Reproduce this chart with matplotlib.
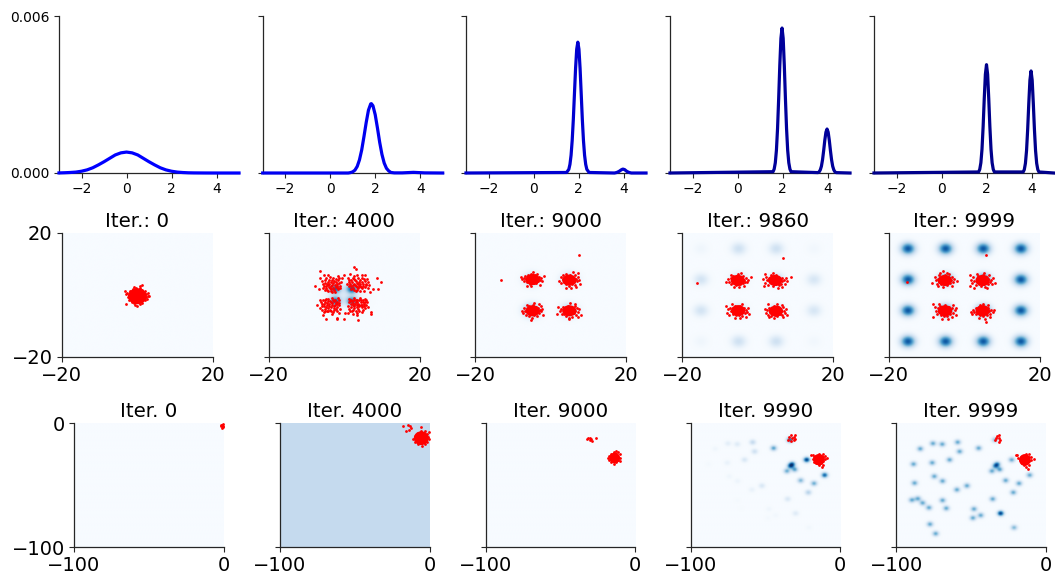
import numpy as np
import matplotlib
matplotlib.use("Agg")
import matplotlib.pyplot as plt
from matplotlib.patches import Ellipse

W, H = 1055, 580
# ---- row 1: density curves (values in units of 1e-3) ----
curve_colors = ["#0000ff", "#0000f0", "#0000d0", "#00009a", "#00008b"]
c1_x = [-3, -2.75, -2.5, -2.25, -2, -1.75, -1.5, -1.25, -1, -.75, -.5, -.25, 0, .25, .5, .75, 1, 1.25, 1.5, 1.75, 2, 2.25, 2.5, 2.75, 3, 3.5, 4, 5]
c1_y = [.003, .01, .02, .035, .068, .12, .2, .31, .43, .56, .69, .77, .8, .77, .69, .56, .43, .31, .2, .12, .068, .035, .018, .008, .004, .001, 0, 0]
c2_x = [-3, .8, .9, 1., 1.1, 1.2, 1.3, 1.4, 1.5, 1.6, 1.7, 1.8, 1.83, 1.9, 2., 2.1, 2.2, 2.3, 2.4, 2.5, 2.6, 2.7, 2.85, 3.2, 3.7, 4.2, 5]
c2_y = [0, 0, .015, .044, .11, .25, .5, .88, 1.39, 1.93, 2.4, 2.64, 2.65, 2.57, 2.23, 1.72, 1.17, .71, .38, .18, .08, .02, .005, .005, .025, .005, 0]
c3_x = [-3, 1.47, 1.57, 1.62, 1.67, 1.72, 1.77, 1.82, 1.87, 1.92, 1.97, 2.02, 2.07, 2.12, 2.17, 2.22, 2.27, 2.32, 2.37, 2.47, 3.6, 3.7, 3.8, 3.9, 3.97, 4.05, 4.15, 4.25, 4.35, 5]
c3_y = [0, .02, .14, .33, .68, 1.25, 2.05, 3.03, 4., 4.73, 5., 4.73, 4., 3.03, 2.05, 1.25, .68, .33, .14, .02, 0, .02, .06, .12, .15, .13, .06, .02, 0, 0]
c4_x = [-3, 1.58, 1.63, 1.68, 1.73, 1.78, 1.83, 1.88, 1.93, 1.98, 2.03, 2.08, 2.13, 2.18, 2.23, 2.28, 2.33, 2.38, 3.58, 3.63, 3.68, 3.73, 3.78, 3.83, 3.88, 3.93, 3.98, 4.03, 4.08, 4.13, 4.18, 4.23, 4.28, 4.33, 4.38, 5]
c4_y = [0, .05, .15, .39, .87, 1.7, 2.85, 4.12, 5.15, 5.54, 5.15, 4.12, 2.85, 1.7, .87, .39, .15, .05, .015, .045, .12, .26, .51, .86, 1.25, 1.56, 1.68, 1.56, 1.25, .86, .51, .26, .12, .045, .015, 0]
c5_x = [-3, 1.65, 1.7, 1.75, 1.8, 1.85, 1.9, 1.95, 2., 2.05, 2.1, 2.15, 2.2, 2.25, 2.3, 2.35, 3.63, 3.68, 3.73, 3.78, 3.83, 3.88, 3.93, 3.98, 4.03, 4.08, 4.13, 4.18, 4.23, 4.28, 4.33, 5]
c5_y = [0, .04, .14, .39, .91, 1.77, 2.84, 3.77, 4.14, 3.77, 2.84, 1.77, .91, .39, .14, .04, .04, .13, .37, .86, 1.67, 2.67, 3.55, 3.9, 3.55, 2.67, 1.67, .86, .37, .13, .04, 0]
curves = [(c1_x, c1_y), (c2_x, c2_y), (c3_x, c3_y), (c4_x, c4_y), (c5_x, c5_y)]

# ---- row 2: density modes (x, y, level, sigma) ----
grid_xs = [-15, -5, 5, 15]
grid_ys = [15, 5, -5, -15]
levels_r2_3 = [[0, 0, 0, 0], [0, .3, .3, 0], [0, .5, .35, 0], [0, 0, 0, 0]]
levels_r2_4 = [[.04, .2, .2, .03], [.18, .3, .3, .16], [.18, .3, .3, .16], [.04, .2, .2, .03]]
levels_r2_5 = [[.85, .85, .85, .85], [.85, .85, .85, .85], [.85, .85, .85, .85], [.85, .85, .85, .85]]
modes_r2_2 = [(-2.5, 2., .75, 1.), (2., 2., .8, 1.), (-2.5, -2., .75, 1.), (2., -2., .7, 1.), (0, 0, .12, 3.2)]

p1 = [(-2.6,.6),(-2.4,-.8),(-2.2,.1),(-2.1,-1.7),(-1.8,1.2),(-1.7,-.4),(-1.5,.5),(-1.4,-1.3),(-1.3,-2.2),(-1.1,1.9),(-1,.9),(-1,-.2),(-.8,-1),(-.7,-2.7),(-.6,.3),(-.5,1.5),(-.4,-1.8),(-.2,2.2),(-.2,-.5),
      (0,.8),(.1,-1.2),(.2,-2.4),(.3,1.7),(.4,.1),(.6,-.7),(.7,2.3),(.8,1),(.9,-1.8),(1.1,-.1),(1.2,-2.6),(1.3,.6),(1.4,1.7),(1.5,-1.1),(1.7,-.4),(1.9,.5),(2,-1.7),(2.1,1.3),(2.3,-.6),(2.5,.2),(2.6,-1.2),(2.9,-.3),(2.8,.8),
      (-3.1,1.3),(-2.8,-2.9),(1.3,3.2),(0,-3.5),(.7,2.9),(-.9,2.6),(3.2,-.4),(-.4,-3.1),(.9,-3),(-2.9,.2)]
p2 = [(-6.3,7.75),(2.7,8.9),(3,8.5),(8.8,5.5),(9.8,4.1),(-7.7,3),(-6.8,2.05),(8.9,1.8),(7.7,1.8),(6.9,1.1),(-7.1,-3.1),(7,-5.5),(7,-6.2),(3.6,-8),(0,-7.7),(-1.8,-7.3),(-2,-7.9),(-4.8,-7.6),(-1.4,-5.8),(.2,-5.7),(-5.5,-6.4),
      (-6.3,5.6),(-5.3,6.6),(-4.2,6.4),(-3,5.4),(-1.7,6),(-.1,6.6),(-5.8,4.4),(-5,4.7),(-4.6,3.6),(-4.1,5),(-3.6,4.2),(-3.1,3.3),(-2.6,4.6),(-2,3.7),(-1.6,4.8),(-1.2,3),(-5.4,3),(-4.7,2.2),(-4,2.6),(-3.5,1.9),(-2.9,2.4),(-2.2,2.7),(-1.6,1.9),(-5.1,1.6),(-4.2,1.2),(-3.2,.9),(-2.4,1.1),(-.9,4.3),(-.6,5.4),
      (.9,5.5),(1.6,6.7),(2.7,6),(3.6,5.5),(4.6,6.3),(5.6,6.4),(6,5.2),(6.4,4.1),(1.2,4.2),(1.9,4.9),(2.5,3.7),(3.1,4.5),(3.7,3.6),(4.3,4.8),(4.9,3.7),(5.4,4.4),(5.9,3.1),(1.3,2.9),(2.2,2.4),(3,2.9),(3.6,2.2),(4.2,2.8),(4.8,2.2),(5.4,2.6),(3.1,1.2),(4.2,1.3),(5.2,1.2),(.7,3.5),(6.4,2.2),(2.6,5.2),
      (-6.4,-1.6),(-5.6,-1.5),(-5.9,-2.8),(-5,-2.3),(-4.4,-1.3),(-3.7,-1.9),(-3.2,-1),(-2.4,-1.5),(-1.6,-1.1),(-5.4,-3.6),(-4.6,-3.3),(-3.9,-2.9),(-3.1,-2.6),(-2.3,-2.7),(-1.5,-2.5),(-5.8,-4.7),(-5,-4.5),(-4.2,-4.2),(-3.5,-3.8),(-2.7,-3.6),(-1.8,-3.8),(-5.4,-5.5),(-4.6,-5.3),(-3.6,-5),(-2.8,-4.8),(-6,-3.6),(-3.2,-6),(-1.9,-5),(-6.4,-4.1),
      (1.2,-1.2),(1.9,-1.6),(2.7,-1),(3.4,-1.5),(4.1,-1.1),(4.9,-1.6),(5.6,-1.2),(6.1,-2.1),(1.4,-2.4),(2.2,-2.7),(3,-2.3),(3.7,-2.8),(4.4,-2.4),(5.2,-2.8),(5.9,-3.1),(1.1,-3.5),(1.9,-3.9),(2.6,-3.5),(3.3,-4),(4,-3.6),(4.7,-4),(5.4,-4.1),(1.6,-5),(2.4,-4.8),(3.1,-5.3),(3.9,-5),(4.6,-5.4),(2.2,-6.1),(3.3,-6.5),(6.3,-4),(1,-5.9),
      (-5.6,3.7),(-5.1,3.9),(-4.9,2.9),(-4.4,4.3),(-4.3,3.1),(-3.9,3.5),(-3.8,2.1),(-3.4,3),(-3.3,4.8),(-2.9,3.9),(-2.7,1.7),(-2.4,3.2),(-2.3,5.2),(-1.9,3),(-1.7,2.4),(-1.3,3.9),(-4.9,5.6),(-3.8,5.7),(-2.2,4.2),(-1.4,5.4),(-5.7,2.3),(-4.6,1.6),(-3.5,1.2),(-1.2,2.3),
      (1.5,3.7),(1.8,2.9),(2,4.2),(2.3,3.2),(2.8,3.3),(2.9,5),(3.3,3.9),(3.4,2.6),(3.9,4.2),(3.9,2.9),(4.3,3.5),(4.5,2.5),(4.6,5.5),(4.8,4.3),(5.1,3),(5.2,5.1),(5.7,3.7),(1.7,1.9),(2.6,1.7),(3.5,1.5),(1.2,5),(2.2,5.6),(3.4,6.3),(6.7,3.1),
      (-5.3,-2.9),(-5.1,-1.7),(-4.8,-3.8),(-4.5,-2.6),(-4.3,-1.9),(-3.9,-3.6),(-3.8,-4.8),(-3.5,-2.3),(-3.3,-3.2),(-3,-1.6),(-2.8,-4.2),(-2.6,-2),(-2.4,-3.2),(-2.1,-4.4),(-2,-2.1),(-1.8,-3),(-1.5,-1.7),(-1.3,-3.3),(-4.2,-5.2),(-5.2,-5.1),(-6.1,-2.3),(-3,-5.5),(-1.2,-4.4),(-4.8,-1.2),
      (1.6,-1.8),(1.7,-3),(2.1,-2),(2.2,-3.3),(2.5,-1.7),(2.7,-4.3),(2.9,-3),(3.1,-1.5),(3.3,-3.3),(3.5,-2.2),(3.7,-4.5),(3.9,-3.1),(4,-1.7),(4.4,-3.2),(4.5,-1.5),(4.8,-3.3),(4.9,-2.2),(5.3,-3.5),(5.6,-2.3),(5.8,-1.7),(1.3,-4.5),(2,-5.3),(3.5,-5.8),(5,-4.8)]

c_a = [(-2.8,.2),(-2.4,.6),(-2.2,-.4),(-1.9,1),(-1.7,.1),(-1.5,-.9),(-1.2,1.4),(-1,.5),(-.9,-.3),(-.7,-1.4),(-.5,1.9),(-.3,.9),(-.2,-.7),(0,2.4),(.1,.1),(.3,-1.2),(.5,1.3),(.6,-.3),(.8,.7),(1.,-1),(1.2,1.7),(1.3,.1),(1.5,-.5),(1.7,.9),(2,-.1),(2.3,.5),(2.6,-.6),(-1.5,-2),(1.9,-1.9),(-.4,-2.1),(3,1),(-3.1,.8)]
c_b = [(-2.7,-.3),(-2.3,.9),(-2.1,-1),(-1.8,.3),(-1.6,1.5),(-1.4,-.5),(-1.1,.8),(-1,-1.4),(-.8,2),(-.6,.1),(-.4,1.2),(-.3,-.8),(-.1,-1.9),(.1,.6),(.3,1.8),(.4,-.2),(.6,-1.2),(.8,1),(1,.2),(1.2,-.7),(1.4,1.5),(1.6,-1.6),(1.8,.5),(2,-.4),(2.3,.9),(2.6,0),(.9,2.5),(2.2,2.2),(-.9,-2.4),(.5,-2.6),(2.8,-1.3),(1.9,-2.3)]
c_c = [(-2.9,.1),(-2.5,-.7),(-2.3,.8),(-2,-.1),(-1.7,-1.4),(-1.5,.5),(-1.3,-.5),(-1.1,1.4),(-.9,-1.6),(-.7,.2),(-.5,-.7),(-.3,1),(-.2,-2.2),(0,-.1),(.2,1.8),(.3,-1.2),(.5,.5),(.7,-.5),(.9,1.2),(1.1,-1.7),(1.3,.1),(1.5,1),(1.7,-.8),(1.9,.3),(2.2,-.2),(2.5,.7),(2.7,-1.4),(.4,2.5),(-1.5,2),(2.3,1.7),(1.6,2.1),(-.5,-2.9)]
c_d = [(-3.2,-1.1),(-2.6,-.2),(-2.3,.7),(-2,-1),(-1.8,1.3),(-1.5,.1),(-1.3,-.9),(-1.1,.8),(-.8,-1.6),(-.6,.3),(-.4,1.6),(-.3,-.6),(-.1,-2.2),(.1,.6),(.3,-1.1),(.5,1.2),(.6,-.1),(.8,-1.9),(1,.5),(1.2,-.7),(1.4,1.5),(1.6,.1),(1.8,-1.3),(2,.8),(2.3,-.3),(2.6,.5),(3,-1.4),(-3,1.3),(1.4,2.1),(.2,2.5),(-.2,-2.8),(2.4,-2.1)]
c_e = [(-2.6,.6),(-2.2,-.5),(-1.9,.9),(-1.7,-1.1),(-1.4,.2),(-1.2,1.3),(-1,-.6),(-.8,.6),(-.6,-1.5),(-.4,.1),(-.2,1.2),(-.1,-.7),(.1,2),(.3,.5),(.5,-.3),(.7,-1.3),(.9,.9),(1.1,.1),(1.3,-.7),(1.5,1.5),(1.7,.3),(1.9,-.4),(2.2,.8),(2.5,-.6),(2.8,.3),(3.4,1),(.4,-2),(1.7,-1.7),(-1.8,1.8),(-3,-.5),(.9,2.4),(-.9,-2.1)]
c_f = [(-3.2,.4),(-2.7,-.9),(-2.4,1.1),(-2.1,.1),(-1.8,-1.4),(-1.6,.7),(-1.3,-.3),(-1.1,1.7),(-.9,-.9),(-.7,.4),(-.5,-1.8),(-.3,1.1),(-.1,-.2),(.1,-1.1),(.3,1.9),(.5,.4),(.7,-.6),(.9,-1.6),(1.1,.9),(1.3,0),(1.5,-1),(1.7,.7),(1.9,-.3),(2.3,.3),(2.6,-1),(2.9,.9),(-2.6,2.2),(-3,-1.8),(.7,-2.5),(-.6,2.5),(1.7,-2.2),(3.1,-.3)]
c_g = [(-2.9,-.6),(-2.6,.5),(-2.3,-1.3),(-2.1,1),(-1.8,-.2),(-1.5,-1.2),(-1.3,.8),(-1.1,-.4),(-.9,1.5),(-.7,-1.5),(-.5,.3),(-.3,-.6),(-.1,1.1),(.1,-1.3),(.3,.1),(.5,1.5),(.7,-.6),(.9,.6),(1.1,-1.7),(1.3,-.2),(1.5,.9),(1.7,-.9),(2,.2),(2.3,-.5),(2.6,.8),(2.9,-1.1),(-1.6,2),(-3.2,1.4),(1.1,2.1),(-.9,-2.4),(.6,-2.5),(2.2,-2)]
c_h = [(-3,.7),(-2.7,-.5),(-2.3,.3),(-2,-1.2),(-1.8,1),(-1.5,-.2),(-1.3,-1.6),(-1,.7),(-.8,-.6),(-.6,1.6),(-.4,.1),(-.2,-1.1),(0,.9),(.2,-.2),(.4,-1.7),(.6,1.3),(.8,.3),(1,-.8),(1.2,.8),(1.4,-.1),(1.6,-1.4),(1.8,1.2),(2.1,.2),(2.4,-.6),(2.7,.6),(3,-1.2),(.4,2.3),(-.5,-2.3),(1.5,2),(-1.8,-2),(2,-2),(-2.1,2.4)]
c_i = [(-2.7,1.1),(-2.5,0),(-2.2,-1.1),(-1.9,.6),(-1.7,1.7),(-1.5,-.4),(-1.2,.3),(-1,-1.3),(-.8,1.1),(-.6,-.3),(-.4,-2),(-.2,.5),(0,1.7),(.2,-.7),(.4,.3),(.6,-1.4),(.8,1.2),(1,-.1),(1.2,.8),(1.4,-.9),(1.6,.2),(1.9,1),(2.2,-.4),(2.5,.5),(-1.3,2.5),(.5,2.3),(1.9,-1.8),(-3.3,-.8),(-.5,3),(3.3,-.1),(1.2,2),(-1.9,-1.9)]
c_j = [(-3.1,.2),(-2.8,-.9),(-2.5,1.1),(-2.2,-.2),(-1.9,-1.5),(-1.6,.6),(-1.4,-.5),(-1.2,1.4),(-1,-1.1),(-.7,.2),(-.5,-1.9),(-.3,1),(-.1,-.4),(.1,1.8),(.3,-1),(.5,.3),(.7,-2),(.9,1),(1.1,-.2),(1.3,-1.3),(1.5,.6),(1.7,1.7),(1.9,-.6),(2.2,.3),(2.5,-1.3),(2.8,.9),(-3.4,1.7),(-2.4,-2.3),(-3.3,-1.7),(1.2,-2.4),(-1.6,2),(.4,2.4)]
c_k = [(-2.8,1.2),(-2.5,-.1),(-2.2,-1.1),(-1.9,.8),(-1.6,-.4),(-1.4,1.6),(-1.2,-1.4),(-1,.3),(-.8,-.6),(-.6,1),(-.4,-1.7),(-.2,.2),(0,1.8),(.2,-.7),(.4,.6),(.6,-1.6),(.8,-.1),(1,1.1),(1.2,-.9),(1.4,.2),(1.7,-1.9),(1.9,.8),(2.2,-.6),(2.5,.3),(2.8,-1.2),(-1.6,2.1),(-3.1,-2.1),(-.8,-2.7),(.7,-2.6),(2.1,1.9),(-3.3,2.2),(2.9,1)]
c_l = [(-3.2,-.3),(-2.9,-1),(-2.5,.3),(-2.2,-.5),(-1.9,.9),(-1.7,-1.1),(-1.4,.1),(-1.2,-.7),(-1,1.1),(-.8,-.1),(-.6,-1.3),(-.4,.6),(-.2,-.5),(0,1.4),(.2,-1.6),(.4,.2),(.6,1),(.8,-.7),(1,.4),(1.2,-1.3),(1.5,.9),(1.7,-.2),(2,-1),(2.3,.3),(2.6,-.5),(2.9,.4),(.2,2.3),(.5,-2.5),(1.5,1.9),(-1,-2.2),(-.6,2),(1.9,-2.1)]
centers_3 = [(-4.75, 5.), (4.96, 4.8), (-4.75, -5.1), (4.96, -5.1)]
centers_4 = [(-5.3, 4.7), (4.6, 4.7), (-5.2, -5.05), (4.8, -5.2)]
centers_5 = [(-5.1, 4.7), (4.9, 4.7), (-5.05, -5.1), (4.9, -5.1)]
clusters_3 = [c_a, c_b, c_c, c_d]
clusters_4 = [c_e, c_f, c_g, c_h]
clusters_5 = [c_i, c_j, c_k, c_l]
out_3 = [(7.6, 12.8), (-13.1, 4.9)]
out_4 = [(6.6, 11.9), (-16, 4), (8.7, 5.8)]
out_5 = [(5.8, 12.8), (-15.2, 4.1), (8.2, 3.9), (5.7, -8.6)]
# solid centre of the dense point clouds: (x, y, half-width, half-height)
core_r2_1 = [(.1, -.4, 2.5, 2.6)]
core_r2_n = (1.9, 1.8)

# ---- row 3: mode positions and levels ----
r3_x = [-83.9,-75.4,-69.2,-58.9,-44.9,-57.6,-33.9,-64.3,-75.9,-88.4,-22.8,-32.4,-33.7,-30.8,-36.0,-10.8,-74.5,-69.0,-87.7,-26.8,-17.9,-52.7,-59.4,-21.7,-89.5,-85.5,-82.3,-78.1,-69.0,-66.5,-35.5,-48.0,-43.5,-48.7,-30.2,-77.4,-73.6,-21.2]
r3_y = [-20.7,-16.4,-17.0,-15.4,-20.2,-22.9,-13.5,-29.6,-32.0,-33.1,-29.6,-33.1,-34.7,-37.4,-38.7,-42.0,-43.0,-46.8,-48.4,-46.3,-48.7,-50.6,-53.8,-56.0,-62.1,-61.0,-64.5,-68.3,-62.4,-68.8,-61.3,-69.4,-74.5,-76.6,-72.9,-81.7,-89.3,-84.4]
r3_level_4 = [.04,.1,.12,.25,.55,.2,.8,.15,.07,.02,.95,.7,.7,.55,.5,.8,.04,.05,0,.45,.5,.15,.07,.3,0,0,0,0,.015,.01,.15,.04,.03,.02,.12,0,0,.03]
r3_level_5 = [.52,.52,.52,.52,.52,.52,.42,.52,.52,.52,.52,.6,.6,.55,.52,.52,.52,.52,.52,.52,.52,.52,.52,.52,.52,.52,.52,.52,.52,.52,.52,.52,.52,.52,.95,.52,.52,.45]
r3_flat = [0, .25, 0, 0, 0]

red_r3_1 = [(-1,-1),(-1.5,-2.5),(-.8,-3.5),(-.3,-.8),(-.3,-2),(-.2,-3.2),(-1.6,-1.2)]
red_r3_2 = [(-11,-13),(-10,-10),(-10,-15),(-9,-12),(-8,-8),(-8,-17),(-8,-13),(-6.5,-10),(-6.5,-15),(-6,-6.5),(-6,-12.5),(-5,-18),(-4.5,-8),(-4.5,-15),(-4,-11),(-3,-6),(-3,-17),(-2.5,-13),(-2,-9),(-1.5,-15),(-1,-11),(-.5,-7),(-.5,-13),(-18,-2),(-14.7,-1.4),(-13,-2),(-12.4,-3.6),(-15.4,-6),(-13.4,-5.5),(-5.4,-3),(-5,-12),(-7,-10.5),(-3,-11),(-6,-14),(-9,-10)]
red_r3_3 = [(-18,-28),(-17.5,-26),(-17.5,-30),(-16,-24.5),(-16,-28),(-16,-31.5),(-14.5,-23.5),(-14.5,-26.5),(-14.5,-29.5),(-14.5,-32.5),(-13,-25),(-13,-28),(-13,-31),(-11.5,-23.5),(-11.5,-27),(-11.5,-30),(-10.5,-25),(-10,-28),(-10,-30.5),(-13,-22.5),(-31.5,-12),(-30,-11.5),(-30.5,-13.5),(-29,-14),(-26,-12),(-32.5,-12.5),(-29.5,-12.8)]
red_r3_4 = [(-19.7,-25.6),(-18.5,-25.8),(-18.5,-29),(-17.5,-27),(-17.5,-31),(-16,-26),(-16,-29),(-16,-32),(-14.5,-25),(-14.5,-28),(-14.5,-31),(-14.5,-34),(-13,-26),(-13,-29),(-13,-32),(-11.5,-24.5),(-11.5,-27.5),(-11.5,-30.5),(-11.5,-33.5),(-10,-26),(-10,-29),(-8.5,-28),(-12,-35),(-35,-13.5),(-34,-11),(-33,-9.5),(-32.5,-12),(-31,-11),(-30.5,-9.8),(-30,-12.5),(-31,-13.5),(-33,-14.5)]
red_r3_5 = [(-20,-25.6),(-19,-25.8),(-18.5,-28),(-17.5,-30),(-16.5,-27),(-16,-32),(-16,-29),(-14.5,-26),(-14.5,-29),(-14.5,-31),(-14.5,-34),(-13,-25),(-13,-28),(-13,-31),(-13,-35),(-11.5,-24.5),(-11.5,-27.5),(-11.5,-30.5),(-11.5,-33.5),(-10,-27),(-10,-30),(-8,-29),(-12,-37),(-34,-13.5),(-33,-11.5),(-32.5,-10),(-31.5,-9.5),(-31,-11.5),(-30.5,-13.5),(-31,-15)]
core_r3 = [None, (-5.5, -12, 5, 5.6), (-13.7, -28, 3.6, 4.4), (-14.2, -29.3, 3.9, 4.6), (-14, -29.6, 3.9, 4.8)]

row2_titles = ["Iter.: 0", "Iter.: 4000", "Iter.: 9000", "Iter.: 9860", "Iter.: 9999"]
row3_titles = ["Iter. 0", "Iter. 4000", "Iter. 9000", "Iter. 9990", "Iter. 9999"]
row1_left = [59, 262.7, 466, 670, 874]
row2_left = [61.5, 268.7, 475.1, 682.3, 888.7]
row3_left = [74, 280, 485.7, 690.7, 896.3]

fig = plt.figure(figsize=(W / 100, H / 100), dpi=100)
SPINE = "#262626"

def new_ax(left, top, width, height):
    ax = fig.add_axes([left / W, 1 - (top + height) / H, width / W, height / H])
    ax.spines["top"].set_visible(False)
    ax.spines["right"].set_visible(False)
    for s in ("left", "bottom"):
        ax.spines[s].set_color(SPINE)
        ax.spines[s].set_linewidth(0.9)
    return ax

def field(lim, modes):
    g = np.linspace(lim[0], lim[1], 400)
    X, Y = np.meshgrid(g, g)
    Z = np.zeros_like(X)
    for mx, my, lv, sg in modes:
        Z += lv * np.exp(-((X - mx) ** 2 + (Y - my) ** 2) / (2 * sg ** 2))
    return Z

def show(ax, lim, modes, flat=0.0):
    Z = field(lim, modes) + flat
    ax.imshow(Z, origin="lower", extent=[lim[0], lim[1], lim[0], lim[1]], cmap="Blues",
              vmin=0, vmax=1, aspect="auto", interpolation="bilinear", zorder=1)
    ax.set_xlim(lim)
    ax.set_ylim(lim)

def dots(ax, pts, s):
    a = np.array(pts)
    ax.scatter(a[:, 0], a[:, 1], s=s, c="red", linewidths=0, zorder=3)

def core(ax, x, y, hw, hh):
    ax.add_patch(Ellipse((x, y), 2 * hw, 2 * hh, facecolor="red", edgecolor="none", zorder=2.5))

# row 1
for i, (cx, cy) in enumerate(curves):
    ax = new_ax(row1_left[i], 16, 180, 157)
    ax.plot(cx, np.array(cy) * 1e-3, color=curve_colors[i], lw=2.3, solid_joinstyle="round", clip_on=False, zorder=3)
    ax.set_xlim(-3, 5)
    ax.set_ylim(0, 0.006)
    ax.set_xticks([-2, 0, 2, 4])
    ax.set_yticks([0, 0.006])
    ax.set_yticklabels(["0.000", "0.006"] if i == 0 else [])
    ax.tick_params(labelsize=10, length=3.5, width=0.8, pad=3, color=SPINE)

def grid_modes(levels, sg):
    return [(x, y, levels[r][c], sg) for r, y in enumerate(grid_ys) for c, x in enumerate(grid_xs)]

# row 2
r2_fields = [[], modes_r2_2, grid_modes(levels_r2_3, 1.5), grid_modes(levels_r2_4, 1.35), grid_modes(levels_r2_5, 1.3)]
r2_points = [p1, p2]
r2_cores = [core_r2_1, []]
for centers, clusters, extra in [(centers_3, clusters_3, out_3), (centers_4, clusters_4, out_4), (centers_5, clusters_5, out_5)]:
    pts = list(extra)
    for (cx, cy), off in zip(centers, clusters):
        pts += [(cx + dx, cy + dy) for dx, dy in off]
    r2_points.append(pts)
    r2_cores.append([(cx, cy, core_r2_n[0], core_r2_n[1]) for cx, cy in centers])
for i in range(5):
    ax = new_ax(row2_left[i], 233, 151, 124)
    show(ax, (-20, 20), r2_fields[i])
    for c in r2_cores[i]:
        core(ax, *c)
    dots(ax, r2_points[i], 4.0)
    ax.set_xticks([-20, 20])
    ax.set_yticks([-20, 20])
    if i > 0:
        ax.set_yticklabels([])
    ax.tick_params(labelsize=14, length=3.5, width=0.8, pad=3, color=SPINE)
    ax.set_title(row2_titles[i], fontsize=14.3, pad=4.5)

# row 3
r3_modes = [[], [], [],
            [(x, y, l, 1.5) for x, y, l in zip(r3_x, r3_y, r3_level_4)],
            [(x, y, l, 1.5) for x, y, l in zip(r3_x, r3_y, r3_level_5)]]
r3_points = [red_r3_1, red_r3_2, red_r3_3, red_r3_4, red_r3_5]
for i in range(5):
    ax = new_ax(row3_left[i], 423.3, 149.5, 124)
    show(ax, (-100, 0), r3_modes[i], r3_flat[i])
    if core_r3[i] is not None:
        core(ax, *core_r3[i])
    dots(ax, r3_points[i], 4.0)
    ax.set_xticks([-100, 0])
    ax.set_yticks([-100, 0])
    if i > 0:
        ax.set_yticklabels([])
    ax.tick_params(labelsize=14, length=3.5, width=0.8, pad=3, color=SPINE)
    ax.set_title(row3_titles[i], fontsize=14.3, pad=4.5)

fig.savefig("out.png", dpi=100)
